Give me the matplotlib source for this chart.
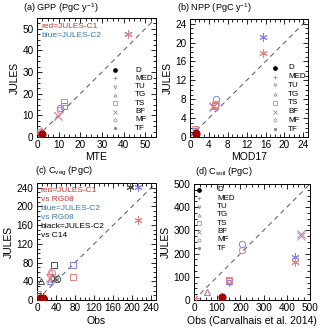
import matplotlib
matplotlib.use("Agg")
import matplotlib.pyplot as plt
from matplotlib.ticker import MultipleLocator, AutoMinorLocator

plt.rcParams['font.family'] = ['Liberation Sans', 'DejaVu Sans']
plt.rcParams['mathtext.fontset'] = 'custom'
plt.rcParams['mathtext.rm'] = 'Liberation Sans'
plt.rcParams['mathtext.it'] = 'Liberation Sans'
plt.rcParams['mathtext.bf'] = 'Liberation Sans'

biomes = ["D", "MED", "TU", "TG", "TS", "BF", "MF", "TF"]

# (a) GPP
gpp_obs = [2.3, 1.5, 1.0, 2.0, 12.4, 9.5, 10.5, 42.0]
gpp_c1 = [1.5, 1.5, 2.5, 3.3, 16.3, 9.8, 12.6, 47.5]
gpp_c2 = [1.2, 1.4, 1.5, 2.5, 14.4, 9.6, 13.4, 47.7]

# (b) NPP
npp_obs = [1.3, 0.8, 1.1, 1.2, 5.4, 4.8, 5.5, 15.5]
npp_c1 = [0.8, 0.8, 1.8, 1.5, 6.8, 6.6, 7.0, 17.8]
npp_c2 = [0.6, 0.7, 1.2, 1.0, 6.5, 6.3, 8.0, 21.1]

# (c) Cveg
cveg_rg08 = [12, 5, 3, 28, 75, 28, 32, 212]
cveg_c14 = [6, 3, 2, 8, 35, 38, 42, 196]
cveg_c1 = [4, 5, 12, 62, 50, 48, 57, 172]
cveg_c2 = [4, 5, 8, 40, 75, 46, 44, 242]

# (d) Csoil
csoil_obs = [120, 10, 150, 58, 152, 460, 208, 435]
csoil_c1 = [14, 10, 80, 36, 88, 278, 215, 163]
csoil_c2 = [14, 9, 72, 34, 84, 284, 240, 186]

markers = {"D": "o", "MED": "+", "TU": "v", "TG": "^", "TS": "s",
           "BF": "x", "MF": "o", "TF": (6, 2, 0)}

RED = "#e58080"
BLUE = "#8080ee"
BLACK = "#505050"
DRED = "#a00000"

fig = plt.figure(figsize=(3.2, 3.3), dpi=100)

rects = {
    "a": [37/320, 1-137/330, 119/320, 119/330],
    "b": [190/320, 1-137/330, 118/320, 118/330],
    "c": [37/320, 1-300/330, 119/320, 117/330],
    "d": [194/320, 1-300/330, 116/320, 116/330],
}

def style(ax, lim, step):
    ax.set_xlim(0, lim)
    ax.set_ylim(0, lim)
    ax.xaxis.set_major_locator(MultipleLocator(step))
    ax.yaxis.set_major_locator(MultipleLocator(step))
    ax.xaxis.set_minor_locator(AutoMinorLocator(4))
    ax.yaxis.set_minor_locator(AutoMinorLocator(4))
    ax.tick_params(which="both", direction="in", top=True, right=True,
                   labelsize=7.2, width=0.6, pad=2.5)
    ax.tick_params(which="major", length=3.5)
    ax.tick_params(which="minor", length=2)
    for s in ax.spines.values():
        s.set_linewidth(0.7)
    ax.plot([0, lim], [0, lim], ls=(0, (5, 4)), color="#555555", lw=0.7, zorder=1)

def draw(ax, obs, vals, color, ms=4.6):
    for i, b in enumerate(biomes):
        m = markers[b]
        if b == "D":
            ax.plot(obs[i], vals[i], marker="o", ms=4.6, color=DRED, mec=DRED,
                    ls="none", zorder=5)
        else:
            s = ms + 1.2 if b in ("TF", "BF") else ms
            ax.plot(obs[i], vals[i], marker=m, ms=s, mfc="none", mec=color,
                    mew=0.7, ls="none", zorder=3)

def legend(ax, mx, tx, y0, dy):
    for i, b in enumerate(biomes):
        y = y0 - i * dy
        if b == "D":
            ax.plot(mx, y, marker="o", ms=2.4, color="black", transform=ax.transAxes,
                    ls="none", clip_on=False)
        else:
            ax.plot(mx, y, marker=markers[b], ms=2.2, mfc="none", mec="#888888",
                    mew=0.5, transform=ax.transAxes, ls="none", clip_on=False)
        ax.text(tx, y, b, transform=ax.transAxes, fontsize=5.8, va="center", ha="left")

TFS = 6.0
HFS = 6.6

# (a)
axa = fig.add_axes(rects["a"])
style(axa, 55, 10)
draw(axa, gpp_obs, gpp_c2, BLUE)
draw(axa, gpp_obs, gpp_c1, RED)
axa.set_xlabel("MTE", fontsize=7.5, labelpad=1)
axa.set_ylabel("JULES", fontsize=7.5, labelpad=2)
legend(axa, 0.655, 0.825, 0.563, 0.070)
axa.text(0.035, 0.927, "red=JULES-C1", color="#cc3333", fontsize=TFS,
         transform=axa.transAxes, va="center")
axa.text(0.035, 0.857, "blue=JULES-C2", color="#3a78a8", fontsize=TFS,
         transform=axa.transAxes, va="center")
fig.text(23/320, 1-11/330, "(a) GPP (PgC y$^{-1}$)", fontsize=HFS, va="baseline", ha="left")

# (b)
axb = fig.add_axes(rects["b"])
style(axb, 25, 4)
draw(axb, npp_obs, npp_c2, BLUE)
draw(axb, npp_obs, npp_c1, RED)
axb.set_xlabel("MOD17", fontsize=7.5, labelpad=1)
axb.set_ylabel("JULES", fontsize=7.5, labelpad=2)
legend(axb, 0.72, 0.83, 0.585, 0.074)
fig.text(177/320, 1-11/330, "(b) NPP (PgC y$^{-1}$)", fontsize=HFS, va="baseline", ha="left")

# (c)
axc = fig.add_axes(rects["c"])
style(axc, 250, 40)
draw(axc, cveg_rg08, cveg_c2, BLUE)
draw(axc, cveg_rg08, cveg_c1, RED)
draw(axc, cveg_c14, cveg_c2, BLACK)
axc.set_xlabel("Obs", fontsize=7.5, labelpad=2)
axc.set_ylabel("JULES", fontsize=7.5, labelpad=2)
ctexts = [("red=JULES-C1", "#cc3333"), ("vs RG08", "#cc3333"),
          ("blue=JULES-C2", "#3a78a8"), ("vs RG08", "#3a78a8"),
          ("black=JULES-C2", "black"), ("vs C14", "black")]
for i, (t, c) in enumerate(ctexts):
    axc.text(0.03, 0.94 - i * 0.077, t, color=c, fontsize=TFS,
             transform=axc.transAxes, va="center")
fig.text(35/320, 1-174/330, "(c) C$_{\\mathrm{veg}}$ (PgC)", fontsize=HFS, va="baseline", ha="left")

# (d)
axd = fig.add_axes(rects["d"])
style(axd, 500, 100)
draw(axd, csoil_obs, csoil_c2, BLUE)
draw(axd, csoil_obs, csoil_c1, RED)
axd.set_xlabel("Obs (Carvalhais et al. 2014)", fontsize=7.5, labelpad=2)
axd.set_ylabel("JULES", fontsize=7.5, labelpad=2)
legend(axd, 0.045, 0.2, 0.95, 0.072)
fig.text(195/320, 1-174/330, "(d) C$_{\\mathrm{soil}}$ (PgC)", fontsize=HFS, va="baseline", ha="left")

fig.savefig("out.png", dpi=100)
